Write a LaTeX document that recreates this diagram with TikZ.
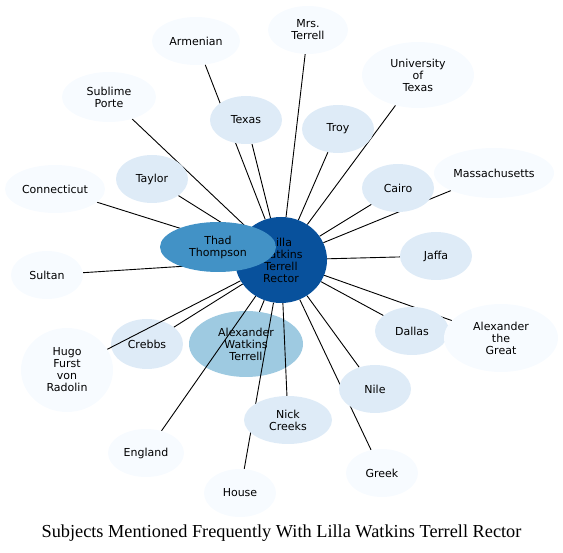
\documentclass[tikz,border=0pt]{standalone}
\usepackage{fontspec}
\newfontfamily\labelfont{DejaVu Sans}
\newfontfamily\titlefont{Liberation Serif}
\usetikzlibrary{shapes.geometric,backgrounds}
\definecolor{bluedark}{HTML}{08519C}
\definecolor{bluemid}{HTML}{4292C6}
\definecolor{bluesoft}{HTML}{9ECAE1}
\definecolor{bluelight}{HTML}{DEEBF7}
\definecolor{bluepale}{HTML}{F7FBFF}
\tikzset{
  subj/.style={ellipse, inner sep=0pt, align=center,
    font=\labelfont\fontsize{11}{12}\selectfont},
  pale/.style={subj, fill=bluepale},
  light/.style={subj, fill=bluelight},
  link/.style={line width=0.9pt, black}
}
\begin{document}
\begin{tikzpicture}[x=1pt,y=-1pt]
\useasboundingbox (0,0) rectangle (563,553);
% centre and Thad on top of it
\node[subj, fill=bluedark, minimum width=92, minimum height=86] (lilla) at (281,260) {Lilla\\Watkins\\Terrell\\Rector};
\node[subj, fill=bluemid, minimum width=116, minimum height=50] (thad) at (218,247) {Thad\\Thompson};
% light ones
\node[light, minimum width=72, minimum height=48] (texas) at (246,120) {Texas};
\node[light, minimum width=72, minimum height=48] (troy) at (338,129) {Troy};
\node[light, minimum width=72, minimum height=48] (taylor) at (152,179) {Taylor};
\node[light, minimum width=72, minimum height=48] (cairo) at (398,188) {Cairo};
\node[light, minimum width=72, minimum height=48] (jaffa) at (436,256) {Jaffa};
\node[light, minimum width=74, minimum height=48] (dallas) at (412,331) {Dallas};
\node[light, minimum width=72, minimum height=48] (nile) at (375,389) {Nile};
\node[light, minimum width=88, minimum height=48] (nick) at (288,420) {Nick\\Creeks};
% pale ones
\node[pale, minimum width=88, minimum height=48] (armenian) at (196,41) {Armenian};
\node[pale, minimum width=80, minimum height=48] (mrsterrell) at (308,30) {Mrs.\\Terrell};
\node[pale, minimum width=112, minimum height=66] (univ) at (418,75) {University\\of\\Texas};
\node[pale, minimum width=94, minimum height=50] (sublime) at (109,97) {Sublime\\Porte};
\node[pale, minimum width=120, minimum height=50] (massa) at (494,173) {Massachusetts};
\node[pale, minimum width=100, minimum height=48] (conn) at (55,189) {Connecticut};
\node[pale, minimum width=72, minimum height=48] (sultan) at (47,275) {Sultan};
\node[pale, minimum width=92, minimum height=84] (hugo) at (67,370) {Hugo\\Furst\\von\\Radolin};
\node[pale, minimum width=114, minimum height=68] (alexgreat) at (501,338) {Alexander\\the\\Great};
\node[pale, minimum width=76, minimum height=48] (england) at (146,453) {England};
\node[pale, minimum width=72, minimum height=48] (house) at (240,493) {House};
\node[pale, minimum width=72, minimum height=48] (greek) at (382,473) {Greek};
% these two lie under the links, the rest on top
\begin{scope}[on background layer]
\node[light, minimum width=72, minimum height=50] (crebbs) at (147,344) {Crebbs};
\node[subj, fill=bluesoft, minimum width=114, minimum height=66] (awt) at (246,344) {Alexander\\Watkins\\Terrell};
\foreach \n in {thad,awt,texas,troy,taylor,cairo,jaffa,crebbs,dallas,nile,nick,
  armenian,mrsterrell,univ,sublime,massa,conn,sultan,hugo,alexgreat,england,house,greek}
\draw[link] (lilla) -- (\n);
\end{scope}
\node[font=\titlefont\fontsize{18.3}{20}\selectfont, anchor=base] (title) at (281.5,538) {Subjects Mentioned Frequently With Lilla Watkins Terrell Rector};
\end{tikzpicture}
\end{document}
